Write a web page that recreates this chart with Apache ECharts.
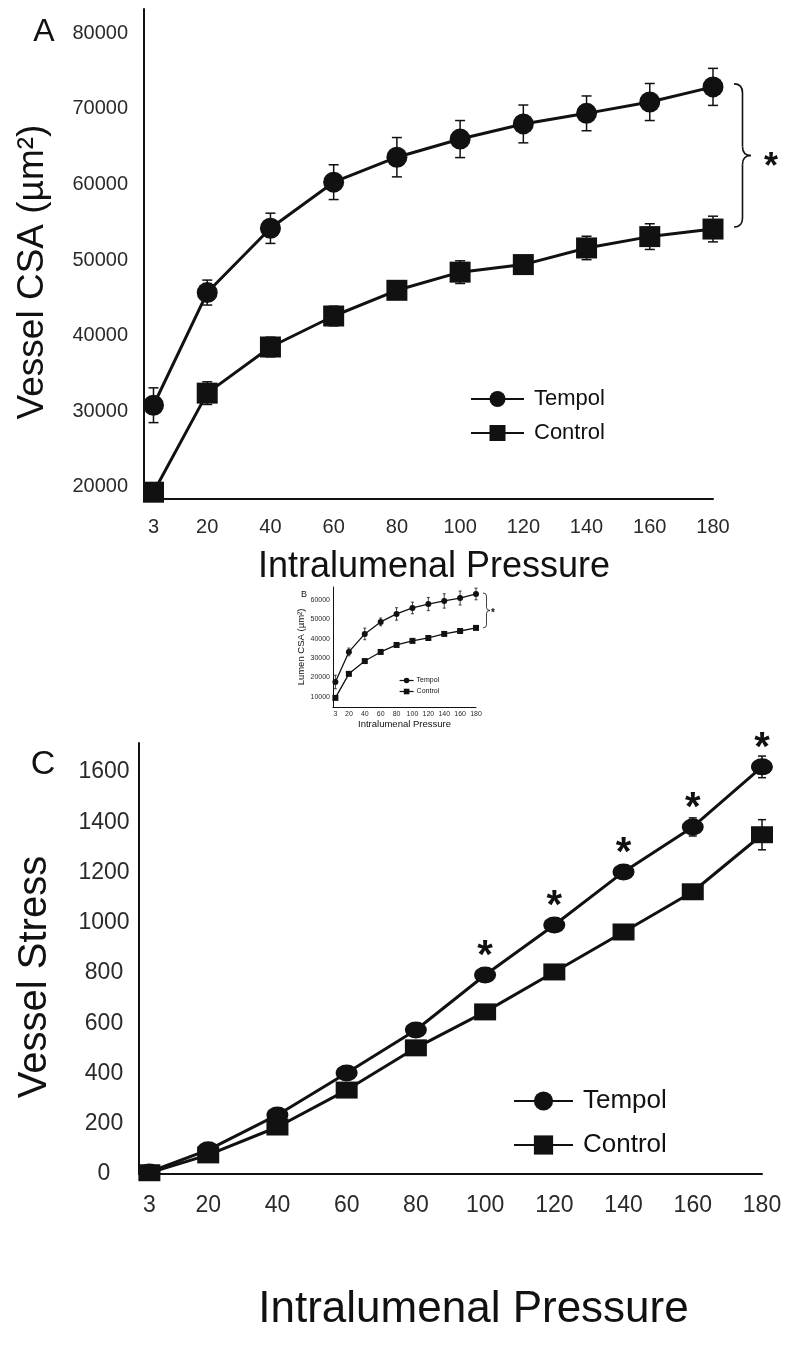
<!DOCTYPE html>
<html>
<head>
<meta charset="utf-8">
<script src="https://cdn.jsdelivr.net/npm/echarts@6/dist/echarts.min.js"></script>
<style>
  html, body { margin: 0; padding: 0; background: #fff; }
  #chart { width: 785px; height: 1347px; }
</style>
</head>
<body>
<div id="chart"></div>
<script>
var FONT = '"Liberation Sans", Arial, sans-serif';

// shared x values (intralumenal pressure)
var pressures = [3, 20, 40, 60, 80, 100, 120, 140, 160, 180];

// A - vessel CSA (um2)
var csaTempol     = [30800, 45700, 54200, 60300, 63600, 66000, 68000, 69400, 70900, 72900];
var csaTempolErr  = [2300, 1650, 2000, 2300, 2600, 2450, 2500, 2300, 2450, 2450];
var csaControl    = [19300, 32400, 38500, 42600, 46000, 48400, 49400, 51600, 53100, 54100];
var csaControlErr = [800, 1500, 1300, 1300, 600, 1500, 600, 1550, 1700, 1700];
var csaTicks      = [20000, 30000, 40000, 50000, 60000, 70000, 80000];

// B - lumen CSA (um2)
var lumenTempol     = [17700, 33200, 42500, 48700, 52800, 55900, 57900, 59500, 61000, 63100];
var lumenTempolErr  = [3500, 2000, 3000, 2000, 3200, 3000, 3400, 3700, 3600, 3000];
var lumenControl    = [9500, 21900, 28500, 33200, 36800, 38900, 40400, 42500, 44000, 45600];
var lumenControlErr = [700, 700, 600, 600, 600, 600, 600, 600, 600, 600];
var lumenTicks      = [10000, 20000, 30000, 40000, 50000, 60000];

// C - vessel stress
var stressTempol     = [8, 96, 235, 402, 573, 792, 991, 1202, 1381, 1620];
var stressTempolErr  = [5, 10, 12, 15, 15, 20, 20, 20, 36, 43];
var stressControl    = [5, 76, 187, 334, 502, 645, 804, 963, 1123, 1350];
var stressControlErr = [5, 10, 12, 15, 15, 20, 20, 20, 25, 60];
var stressTicks      = [0, 200, 400, 600, 800, 1000, 1200, 1400, 1600];
var stressSig        = [0, 0, 0, 0, 0, 1, 1, 1, 1, 1];

function pairs(xs, ys) {
    return xs.map(function (x, i) { return [x, ys[i]]; });
}
function errRows(xs, ys, es) {
    return xs.map(function (x, i) { return [x, ys[i] - es[i], ys[i] + es[i]]; });
}
function plain(v) { return String(v); }

function errorBars(capW, lw) {
    return function (params, api) {
        var x = api.value(0);
        var lo = api.coord([x, api.value(1)]);
        var hi = api.coord([x, api.value(2)]);
        var h = capW / 2;
        var st = { stroke: '#111', lineWidth: lw };
        return {
            type: 'group',
            children: [
                { type: 'line', shape: { x1: lo[0], y1: lo[1], x2: hi[0], y2: hi[1] }, style: st },
                { type: 'line', shape: { x1: lo[0] - h, y1: lo[1], x2: lo[0] + h, y2: lo[1] }, style: st },
                { type: 'line', shape: { x1: hi[0] - h, y1: hi[1], x2: hi[0] + h, y2: hi[1] }, style: st }
            ]
        };
    };
}

function xAxisFor(grid, opts) {
    return {
        gridIndex: grid, type: 'value', min: 0, max: 180,
        axisLine: { lineStyle: { color: '#111', width: opts.axisW } },
        axisTick: { show: false },
        splitLine: { show: false },
        axisLabel: { customValues: pressures, formatter: plain, fontSize: opts.labelSize, color: '#2a2a2a',
            margin: opts.labelMargin, fontFamily: FONT },
        name: 'Intralumenal Pressure', nameLocation: 'middle', nameGap: opts.nameGap,
        nameTextStyle: { fontSize: opts.nameSize, color: '#111', fontFamily: FONT, padding: opts.namePad }
    };
}

function yAxisFor(grid, opts) {
    return {
        gridIndex: grid, type: 'value', min: opts.min, max: opts.max,
        axisLine: { show: true, lineStyle: { color: '#111', width: opts.axisW } },
        axisTick: { show: false },
        splitLine: { show: false },
        axisLabel: { customValues: opts.ticks, formatter: plain, fontSize: opts.labelSize, color: '#2a2a2a',
            margin: opts.labelMargin, align: opts.labelAlign || 'right', fontFamily: FONT },
        name: opts.name, nameLocation: 'middle', nameGap: opts.nameGap,
        nameTextStyle: { fontSize: opts.nameSize, color: '#111', fontFamily: FONT, padding: opts.namePad }
    };
}

function lineSeries(name, axis, xs, ys, sym, size, lw, extra) {
    var s = {
        name: name, type: 'line', xAxisIndex: axis, yAxisIndex: axis,
        data: pairs(xs, ys), symbol: sym, symbolSize: size, clip: false, z: 3,
        lineStyle: { color: '#111', width: lw },
        itemStyle: { color: '#111' }
    };
    for (var k in extra) { s[k] = extra[k]; }
    return s;
}

function errSeries(axis, xs, ys, es, capW, lw) {
    return {
        type: 'custom', xAxisIndex: axis, yAxisIndex: axis, z: 2,
        renderItem: errorBars(capW, lw),
        encode: { x: 0, y: [1, 2] },
        data: errRows(xs, ys, es)
    };
}

var chart = echarts.init(document.getElementById('chart'));

var option = {
    animation: false,
    backgroundColor: '#fff',
    textStyle: { fontFamily: FONT },
    grid: [
        { left: 144, top: 9, width: 569, height: 490 },
        { left: 333, top: 587, width: 143, height: 120 },
        { left: 139, top: 743, width: 623, height: 431 }
    ],
    xAxis: [
        xAxisFor(0, { axisW: 2, labelSize: 20, labelMargin: 18, nameGap: 50, nameSize: 36, namePad: [0, 0, 0, 11] }),
        xAxisFor(1, { axisW: 1, labelSize: 7, labelMargin: 4, nameGap: 11, nameSize: 9.5, namePad: [0, 0, 0, 0] }),
        xAxisFor(2, { axisW: 2, labelSize: 23, labelMargin: 20, nameGap: 114, nameSize: 44, namePad: [0, 0, 0, 46] })
    ],
    yAxis: [
        yAxisFor(0, { min: 18400, max: 83200, ticks: csaTicks, axisW: 2, labelSize: 20, labelMargin: 16,
            name: 'Vessel CSA (µm²)', nameGap: 93, nameSize: 37, namePad: [0, 36, 0, 0] }),
        yAxisFor(1, { min: 4800, max: 66700, ticks: lumenTicks, axisW: 1, labelSize: 7, labelMargin: 3,
            name: 'Lumen CSA (µm²)', nameGap: 26, nameSize: 9.5, namePad: [0, 0, 0, 0] }),
        yAxisFor(2, { min: 0, max: 1715, ticks: stressTicks, axisW: 2, labelSize: 23, labelMargin: 35, labelAlign: 'center',
            name: 'Vessel Stress', nameGap: 84, nameSize: 40, namePad: [0, 37, 0, 0] })
    ],
    legend: [
        { left: 470, top: 388, orient: 'vertical', padding: 0, itemWidth: 53, itemHeight: 20, itemGap: 12,
          textStyle: { fontSize: 22, color: '#111', padding: [0, 0, 0, 5] }, data: ['Tempol', 'Control'] },
        { left: 399, top: 677, orient: 'vertical', padding: 0, itemWidth: 14, itemHeight: 7, itemGap: 4,
          lineStyle: { width: 1.2 },
          textStyle: { fontSize: 7, color: '#111', padding: [0, 0, 0, -2] }, data: ['Tempol', 'Control'] },
        { left: 513, top: 1088, orient: 'vertical', padding: 0, itemWidth: 59, itemHeight: 24, itemGap: 18,
          textStyle: { fontSize: 26, color: '#111', padding: [0, 0, 0, 5] }, data: ['Tempol', 'Control'] }
    ],
    series: [
        errSeries(0, pressures, csaTempol, csaTempolErr, 10, 1.5),
        errSeries(0, pressures, csaControl, csaControlErr, 10, 1.5),
        lineSeries('Tempol', 0, pressures, csaTempol, 'circle', 21, 3, {}),
        lineSeries('Control', 0, pressures, csaControl, 'rect', 21, 3, {}),

        errSeries(1, pressures, lumenTempol, lumenTempolErr, 3, 0.8),
        errSeries(1, pressures, lumenControl, lumenControlErr, 3, 0.8),
        lineSeries('Tempol', 1, pressures, lumenTempol, 'circle', 6, 1.3, {}),
        lineSeries('Control', 1, pressures, lumenControl, 'rect', 6, 1.3, {}),

        errSeries(2, pressures, stressTempol, stressTempolErr, 8, 1.5),
        errSeries(2, pressures, stressControl, stressControlErr, 8, 1.5),
        lineSeries('Tempol', 2, pressures, stressTempol, 'circle', [22, 17], 3, {
            label: {
                show: true, position: 'inside', offset: [0, -18],
                fontSize: 40, fontWeight: 'bold', color: '#111',
                formatter: function (p) { return stressSig[p.dataIndex] ? '*' : ''; }
            }
        }),
        lineSeries('Control', 2, pressures, stressControl, 'rect', [22, 17], 3, {})
    ]
};

chart.setOption(option);

// significance braces, placed from the data of the last pressure step
function brace(x0, yTop, yBot, w, r, lw) {
    var xm = x0 + w / 2, ym = (yTop + yBot) / 2;
    var st = { stroke: '#111', lineWidth: lw, fill: null };
    return [
        { type: 'bezierCurve', shape: { x1: x0, y1: yTop, cpx1: xm, cpy1: yTop, x2: xm, y2: yTop + r }, style: st },
        { type: 'line', shape: { x1: xm, y1: yTop + r, x2: xm, y2: ym - r }, style: st },
        { type: 'bezierCurve', shape: { x1: xm, y1: ym - r, cpx1: xm, cpy1: ym, x2: x0 + w, y2: ym }, style: st },
        { type: 'bezierCurve', shape: { x1: x0 + w, y1: ym, cpx1: xm, cpy1: ym, x2: xm, y2: ym + r }, style: st },
        { type: 'line', shape: { x1: xm, y1: ym + r, x2: xm, y2: yBot - r }, style: st },
        { type: 'bezierCurve', shape: { x1: xm, y1: yBot - r, cpx1: xm, cpy1: yBot, x2: x0, y2: yBot }, style: st }
    ];
}

var last = pressures.length - 1;
var aTop = chart.convertToPixel({ gridIndex: 0 }, [pressures[last], csaTempol[last]]);
var aBot = chart.convertToPixel({ gridIndex: 0 }, [pressures[last], csaControl[last]]);
var bTop = chart.convertToPixel({ gridIndex: 1 }, [pressures[last], lumenTempol[last]]);
var bBot = chart.convertToPixel({ gridIndex: 1 }, [pressures[last], lumenControl[last]]);

var graphics = []
    .concat(brace(aTop[0] + 21, aTop[1] - 3, aBot[1] - 2, 17, 9, 1.6))
    .concat(brace(bTop[0] + 7, bTop[1] - 1, bBot[1], 7, 3, 0.8));

function label(text, x, y, font) {
    return { type: 'text', x: x, y: y,
        style: { text: text, font: font, fill: '#111', textAlign: 'center', textVerticalAlign: 'middle',
            align: 'center', verticalAlign: 'middle' } };
}

graphics.push(
    label('*', aTop[0] + 58, (aTop[1] + aBot[1]) / 2 + 10, 'bold 36px ' + FONT),
    label('*', bTop[0] + 17, (bTop[1] + bBot[1]) / 2 + 2, 'bold 10px ' + FONT),
    label('A', 44, 32, '32px ' + FONT),
    label('B', 304, 595, '9px ' + FONT),
    label('C', 43, 765, '34px ' + FONT)
);

chart.setOption({ graphic: graphics });
</script>
</body>
</html>
